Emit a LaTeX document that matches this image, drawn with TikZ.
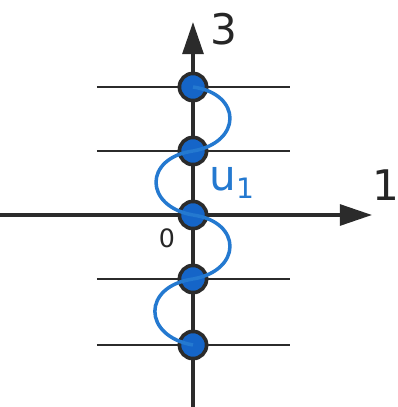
\documentclass[tikz,border=0pt]{standalone}
\usepackage{fontspec}
\setmainfont{DejaVu Sans}
\usepackage{tikz}
\usetikzlibrary{arrows.meta,positioning}
\definecolor{axisgray}{HTML}{2B2B2B}
\definecolor{dotblue}{HTML}{1565C8}
\definecolor{curveblue}{HTML}{2479D0}
\tikzset{
  >={Triangle[length=8mm,width=5.2mm]},
  % achsen
  ax/.style={draw=axisgray,line width=2.4pt},
  lvl/.style={draw=axisgray,line width=1.8pt},
  site/.style={circle,draw=axisgray,fill=dotblue,line width=2.6pt,inner sep=0pt,
               minimum size=6.8mm},
  snake/.style={draw=curveblue,line width=2.5pt},
  lbl/.style={font=\fontsize{30}{30}\selectfont,text=black!85,inner sep=0pt},
}
\begin{document}
\begin{tikzpicture}
  \useasboundingbox (-4.825,-4.8) rectangle (5.125,5.375);
  \coordinate (xl) at (-4.825,0);
  \coordinate (xr) at (4.475,0);
  \coordinate (yb) at (0,-4.8);
  \coordinate (yt) at (0,4.825);
  % ebenen
  \foreach \k/\y in {p2/3.2,p1/1.6,m1/-1.6,m2/-3.25}{
    \coordinate (\k l) at (-2.4,\y);
    \coordinate (\k r) at (2.425,\y);
    \draw[lvl] (\k l) -- (\k r);
  }
  \draw[ax,->] (xl) -- (xr);
  \draw[ax,->] (yb) -- (yt);
  \node[site] (p2) at (0,3.2) {};
  \node[site] (p1) at (0,1.6) {};
  \node[site] (o) at (0,0) {};
  \node[site] (m1) at (0,-1.6) {};
  \node[site] (m2) at (0,-3.25) {};
  \draw[snake] (p2.center) to[out=-8,in=10,looseness=2] (p1.center);
  \draw[snake] (p1.center) to[out=188,in=170,looseness=2] (o.center);
  \draw[snake] (o.center) to[out=-8,in=10,looseness=2] (m1.center);
  \draw[snake] (m1.center) to[out=188,in=170,looseness=2] (m2.center);
  \node[lbl] (n3) at (0.775,4.65) {3};
  \node[lbl] (n1) at (4.825,0.75) {1};
  \node[lbl,anchor=base west,text=curveblue] (u1) at (0.4,0.625)
    {u\raisebox{-6pt}{\fontsize{20}{20}\selectfont 1}};
  \node[lbl,font=\fontsize{18}{18}\selectfont] (n0) at (-0.65,-0.575) {0};
\end{tikzpicture}
\end{document}
